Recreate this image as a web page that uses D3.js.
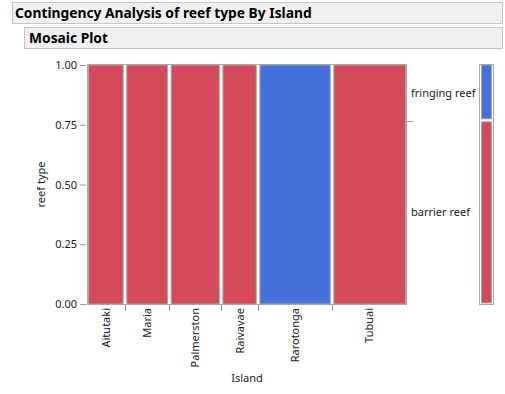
<!DOCTYPE html>
<html lang="en">
<head>
    <meta charset="UTF-8">
    <title>Mosaic Plot</title>
    <script src="https://d3js.org/d3.v7.min.js"></script>
    <style>
        body { margin: 0; background: #fff; }
        text { font-family: "Noto Sans", "Open Sans", sans-serif; fill: #1a1a1a; }
        .hdr { font-weight: bold; font-size: 13.8px; fill: #000; }
        .tick text { font-size: 11px; }
    </style>
</head>
<body>
    <script>
        // Data
        const islands = ["Aitutaki", "Maria", "Palmerston", "Raivavae", "Rarotonga", "Tubuai"];
        const barrierCounts = [5, 6, 7, 5, 0, 10];
        const fringingCounts = [0, 0, 0, 0, 10, 0];
        const reefTypes = ["barrier reef", "fringing reef"];
        const yTicks = [0, 0.25, 0.5, 0.75, 1];

        const width = 505;
        const height = 394;
        const colors = { "barrier reef": "#d44a5a", "fringing reef": "#4471db" };

        const svg = d3.select("body")
            .append("svg")
            .attr("width", width)
            .attr("height", height);

        // Header boxes
        svg.append("rect").attr("x", 12.5).attr("y", 2.5).attr("width", 490).attr("height", 21)
            .attr("fill", "#f0f0f0").attr("stroke", "#c6c6c6");
        svg.append("text").attr("class", "hdr").attr("x", 15).attr("y", 18)
            .text("Contingency Analysis of reef type By Island");
        svg.append("rect").attr("x", 24.5).attr("y", 27.5).attr("width", 478).attr("height", 21)
            .attr("fill", "#f0f0f0").attr("stroke", "#c6c6c6");
        svg.append("text").attr("class", "hdr").attr("x", 29).attr("y", 42.5)
            .text("Mosaic Plot");

        // Build table
        const rows = islands.map((name, i) => ({
            island: name,
            barrier: barrierCounts[i],
            fringing: fringingCounts[i],
            total: barrierCounts[i] + fringingCounts[i]
        }));
        const grand = d3.sum(rows, d => d.total);
        let cum = 0;
        rows.forEach(d => { d.x0 = cum; cum += d.total; d.x1 = cum; });

        const plot = { left: 87, right: 407, top: 64, bottom: 305 };

        const x = d3.scaleLinear().domain([0, grand]).range([plot.left + 1, plot.right - 1]);
        const y = d3.scaleLinear().domain([0, 1]).range([plot.bottom - 1, plot.top + 1]);

        // plot frame
        svg.append("rect")
            .attr("x", plot.left + 0.5).attr("y", plot.top + 0.5)
            .attr("width", plot.right - plot.left - 1).attr("height", plot.bottom - plot.top - 1)
            .attr("fill", "#fff").attr("stroke", "#a8a8a8");

        // cells
        const cells = [];
        rows.forEach(d => {
            let b = d.barrier / d.total;
            let f = d.fringing / d.total;
            if (b > 0) cells.push({ d, type: "barrier reef", y0: 0, y1: b });
            if (f > 0) cells.push({ d, type: "fringing reef", y0: b, y1: 1 });
        });

        const gap = 1.8;
        svg.append("g")
            .selectAll("rect")
            .data(cells)
            .enter()
            .append("rect")
            .attr("x", c => x(c.d.x0) + (c.d.x0 > 0 ? gap : 0.5))
            .attr("width", c => x(c.d.x1) - x(c.d.x0) - (c.d.x0 > 0 ? gap : 0.5) - (c.d.x1 < grand ? gap : 0.5))
            .attr("y", c => y(c.y1) + (c.y1 < 1 ? gap : 0))
            .attr("height", c => y(c.y0) - y(c.y1) - (c.y0 > 0 ? gap : 0) - (c.y1 < 1 ? gap : 0))
            .attr("fill", c => colors[c.type])
            .attr("stroke", "#a8a8a8")
            .attr("stroke-width", 1);

        // y axis
        const yAxis = svg.append("g")
            .attr("transform", `translate(${plot.left - 1},0)`)
            .call(d3.axisLeft(y).tickValues(yTicks).tickFormat(d3.format(".2f")).tickSize(6).tickPadding(3));
        yAxis.select(".domain").remove();
        yAxis.selectAll("line").attr("stroke", "#999");

        // x axis: ticks at island boundaries, labels centered
        const xAxis = svg.append("g").attr("transform", `translate(0,${plot.bottom})`);
        xAxis.selectAll("line")
            .data(rows.slice(0, -1))
            .enter()
            .append("line")
            .attr("x1", d => Math.round(x(d.x1)) + 0.5)
            .attr("x2", d => Math.round(x(d.x1)) + 0.5)
            .attr("y1", 0).attr("y2", 6)
            .attr("stroke", "#999");
        xAxis.selectAll("text")
            .data(rows)
            .enter()
            .append("text")
            .attr("transform", d => `translate(${(x(d.x0) + x(d.x1)) / 2 + 4},3) rotate(-90)`)
            .attr("text-anchor", "end")
            .style("font-size", "11px")
            .text(d => d.island);

        // axis titles
        svg.append("text")
            .attr("transform", `translate(45,${(plot.top + plot.bottom) / 2}) rotate(-90)`)
            .attr("text-anchor", "middle")
            .style("font-size", "11px")
            .text("reef type");
        svg.append("text")
            .attr("x", (plot.left + plot.right) / 2)
            .attr("y", 382)
            .attr("text-anchor", "middle")
            .style("font-size", "11px")
            .text("Island");

        // right side: overall proportions
        const overall = reefTypes.map(t => ({
            type: t,
            n: t === "barrier reef" ? d3.sum(barrierCounts) : d3.sum(fringingCounts)
        }));
        let acc = 0;
        overall.forEach(o => { o.p0 = acc; acc += o.n / grand; o.p1 = acc; });

        svg.append("line")
            .attr("x1", plot.right).attr("x2", plot.right + 6)
            .attr("y1", Math.round(y(overall[0].p1)) + 0.5)
            .attr("y2", Math.round(y(overall[0].p1)) + 0.5)
            .attr("stroke", "#999");
        svg.append("g")
            .selectAll("text")
            .data(overall)
            .enter()
            .append("text")
            .attr("x", 411)
            .attr("y", o => (y(o.p0) + y(o.p1)) / 2 + 4)
            .style("font-size", "11px")
            .text(o => o.type);

        // legend bar
        const ly = d3.scaleLinear().domain([0, 1]).range([303, 65]);
        svg.append("rect")
            .attr("x", 479.5).attr("y", 64.5).attr("width", 14).attr("height", 240)
            .attr("fill", "#fff").attr("stroke", "#a8a8a8");
        svg.append("g")
            .selectAll("rect")
            .data(overall)
            .enter()
            .append("rect")
            .attr("x", 481.5).attr("width", 10)
            .attr("y", o => ly(o.p1) + (o.p1 < 1 ? 1.5 : 0))
            .attr("height", o => ly(o.p0) - ly(o.p1) - (o.p0 > 0 ? 1.5 : 0) - (o.p1 < 1 ? 1.5 : 0))
            .attr("fill", o => colors[o.type])
            .attr("stroke", "#a8a8a8");
    </script>
</body>
</html>
